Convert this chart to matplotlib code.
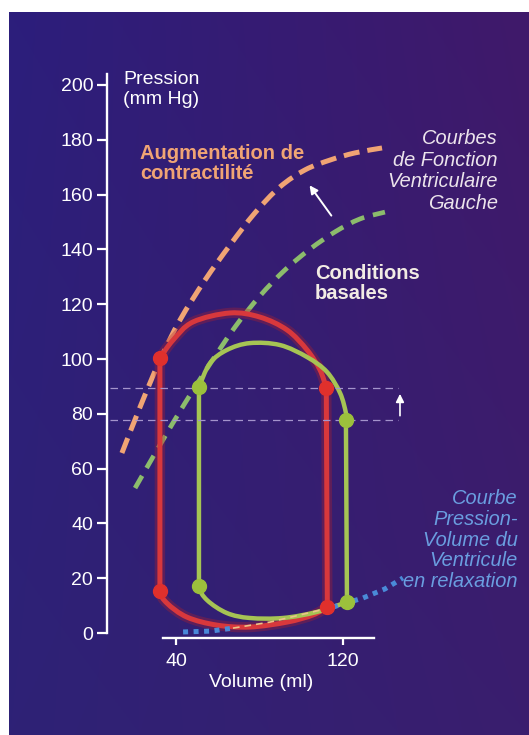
import numpy as np
import matplotlib
matplotlib.use("Agg")
import matplotlib.pyplot as plt
from matplotlib.colors import to_rgb
from matplotlib.path import Path
from matplotlib.patches import PathPatch

plt.rcParams['font.family'] = ['Liberation Sans', 'DejaVu Sans']

# Courbes de fonction ventriculaire gauche (volume ml, pression mm Hg)
contract_vol = [14.1, 22.8, 32.3, 41.9, 53.9, 65.9, 77.8, 89.8, 101.8, 113.8, 125.7, 138.7]
contract_p = [65.7, 82.5, 99.6, 114.2, 128.8, 141.6, 153.3, 162.8, 169.0, 172.6, 175.2, 177.0]
basal_vol = [20.4, 32.3, 44.3, 56.3, 68.3, 80.2, 92.2, 104.2, 116.2, 128.1, 140.1]
basal_p = [52.9, 68.6, 83.9, 98.2, 111.7, 123.0, 132.5, 140.1, 146.4, 151.1, 153.6]

# Boucle pression-volume, contractilite augmentee : ejection (haut) et remplissage (bas)
red_top_vol = [32.3, 38.6, 48.1, 65.9, 80.2, 93.2, 102.8, 109.0, 112.0]
red_top_p = [100.4, 106.9, 113.5, 116.8, 115.3, 110.6, 103.3, 96.0, 89.4]
red_bot_vol = [112.5, 105.6, 93.2, 75.4, 59.6, 45.3, 35.7, 32.3]
red_bot_p = [9.5, 6.6, 4.0, 2.2, 2.9, 5.8, 10.9, 15.3]
red_dots_vol = [32.3, 32.3, 112.0, 112.5]
red_dots_p = [100.4, 15.3, 89.4, 9.5]

# Boucle pression-volume, conditions basales
green_top_vol = [51.0, 56.3, 64.4, 75.4, 89.8, 102.8, 112.3, 118.6, 121.4, 121.4]
green_top_p = [89.8, 98.5, 103.3, 105.8, 105.1, 100.7, 95.3, 87.6, 80.3, 77.6]
green_bot_vol = [121.9, 107.5, 91.3, 75.4, 64.4, 54.9, 51.0]
green_bot_p = [11.3, 7.7, 5.5, 5.5, 7.3, 12.0, 17.0]
green_dots_vol = [51.0, 51.0, 121.4, 121.9]
green_dots_p = [89.8, 17.0, 77.6, 11.3]

# Courbe pression-volume du ventricule en relaxation
relax_vol = [43.4, 56.3, 67.3, 85.0, 99.4, 115.2, 129.6, 140.1, 148.7]
relax_p = [0.4, 0.7, 1.8, 4.0, 6.6, 9.5, 12.8, 16.1, 20.1]

y_ticks = [0, 20, 40, 60, 80, 100, 120, 140, 160, 180, 200]
x_ticks = [40, 120]


def spline(xs, ys, head=None, tail=None):
    """Bezier segments (Catmull-Rom) passing through the given points."""
    pts = np.column_stack([xs, ys]).astype(float)
    pre = pts[0] if head is None else np.asarray(head, float)
    post = pts[-1] if tail is None else np.asarray(tail, float)
    ext = np.vstack([pre, pts, post])
    verts, codes = [pts[0]], [Path.MOVETO]
    for i in range(len(pts) - 1):
        p0, p1, p2, p3 = ext[i], ext[i + 1], ext[i + 2], ext[i + 3]
        verts += [p1 + (p2 - p0) / 6, p2 - (p3 - p1) / 6, p2]
        codes += [Path.CURVE4] * 3
    return verts, codes


def loop_path(top_vol, top_p, bot_vol, bot_p):
    v1, c1 = spline(top_vol, top_p)
    v2, c2 = spline(bot_vol, bot_p, tail=(bot_vol[-1], bot_p[-1] + 8))
    verts = v1 + v2 + [(top_vol[0], top_p[0])]
    codes = c1 + [Path.LINETO] + c2[1:] + [Path.LINETO]
    return Path(verts, codes)


def curve_path(xs, ys):
    v, c = spline(xs, ys)
    return Path(v, c)


fig = plt.figure(figsize=(5.29, 7.35), dpi=100, facecolor='white')

# fond violet en degrade
bg = fig.add_axes([9 / 529, 0, 520 / 529, 723 / 735])
tl, tr = np.array(to_rgb('#2c1e7c')), np.array(to_rgb('#40196a'))
bl, br = np.array(to_rgb('#2e2276')), np.array(to_rgb('#3a1e6e'))
u = np.linspace(0, 1, 200)[None, :, None]
v = np.linspace(0, 1, 200)[:, None, None]
grad = (1 - v) * ((1 - u) * tl + u * tr) + v * ((1 - u) * bl + u * br)
bg.imshow(grad, aspect='auto', extent=[0, 1, 0, 1], origin='upper')
bg.axis('off')

ax = fig.add_axes([0, 0, 1, 1])
ax.patch.set_alpha(0)
ax.set_xlim(-44.3, 209.1)
ax.set_ylim(-37.2, 231.0)

for s in ['top', 'right']:
    ax.spines[s].set_visible(False)
ax.spines['left'].set_position(('data', 7.0))
ax.spines['left'].set_bounds(0, 204)
ax.spines['bottom'].set_position(('data', -1.8))
ax.spines['bottom'].set_bounds(33.8, 135)
for s in ['left', 'bottom']:
    ax.spines[s].set_color('white')
    ax.spines[s].set_linewidth(1.7)

ax.set_yticks(y_ticks)
ax.set_xticks(x_ticks)
ax.tick_params(axis='y', direction='out', length=7, width=1.6, colors='white',
               labelsize=14, pad=3)
ax.tick_params(axis='x', direction='out', length=5, width=1.6, colors='white',
               labelsize=14, pad=6)

# lignes de reference horizontales
for p in [red_dots_p[2], green_dots_p[2]]:
    ax.plot([8.4, 146.3], [p, p], color='#a494cc', lw=0.9, dashes=(6, 4))
ax.annotate('', xy=(147.3, 88.3), xytext=(147.3, 78.3),
            arrowprops=dict(arrowstyle='-|>', color='white', lw=1.2, mutation_scale=12))

# courbes de fonction ventriculaire
ax.add_patch(PathPatch(curve_path(contract_vol, contract_p), fill=False, ec='#f0a474',
                       lw=3.6, ls=(0, (3.2, 1.6)), capstyle='butt'))
ax.add_patch(PathPatch(curve_path(basal_vol, basal_p), fill=False, ec='#8cbc6c',
                       lw=3.4, ls=(0, (3.0, 1.9)), capstyle='butt'))
ax.annotate('', xy=(103.2, 164.2), xytext=(115.2, 151.5),
            arrowprops=dict(arrowstyle='-|>', color='white', lw=1.4, mutation_scale=12))

# courbe de relaxation
ax.plot(relax_vol[:3], relax_p[:3], color='#4a8ad8', lw=3.6, dashes=(1, 1.1),
        dash_capstyle='butt')
ax.plot(relax_vol[5:], relax_p[5:], color='#4a8ad8', lw=3.6, dashes=(1, 1.1),
        dash_capstyle='butt')

# boucles pression-volume
red_path = loop_path(red_top_vol, red_top_p, red_bot_vol, red_bot_p)
green_path = loop_path(green_top_vol, green_top_p, green_bot_vol, green_bot_p)
ax.add_patch(PathPatch(red_path, fill=False, ec='#b0202c', lw=7.5, alpha=0.35,
                       joinstyle='round'))
ax.add_patch(PathPatch(red_path, fill=False, ec='#d8383c', lw=3.6, joinstyle='round'))
ax.add_patch(PathPatch(green_path, fill=False, ec='#a6c454', lw=3.2, joinstyle='round'))
ax.plot(relax_vol[2:6], relax_p[2:6], color='#ecc488', lw=1.2, dashes=(4, 3))
ax.plot(red_dots_vol, red_dots_p, 'o', color='#e0302c', ms=10, ls='none')
ax.plot(green_dots_vol, green_dots_p, 'o', color='#9cc03c', ms=10, ls='none')

# textes
ax.text(14.6, 205.1, 'Pression\n(mm Hg)', color='white', fontsize=14, ha='left', va='top')
ax.text(80.7, -18.2, 'Volume (ml)', color='white', fontsize=14, ha='center', va='center')
ax.text(22.8, 178.6, 'Augmentation de\ncontractilité', color='#f0a474', fontsize=14.5,
        fontweight='bold', ha='left', va='top', linespacing=1.1)
ax.text(106.6, 134.8, 'Conditions\nbasales', color='#f2ece4', fontsize=14.5,
        fontweight='bold', ha='left', va='top', linespacing=1.1)
ax.text(194.2, 184.0, 'Courbes\nde Fonction\nVentriculaire\nGauche', color='#ece4ec',
        fontsize=14.4, fontstyle='italic', ha='right', va='top', linespacing=1.18)
ax.text(203.8, 52.6, 'Courbe\nPression-\nVolume du\nVentricule\nen relaxation',
        color='#6a9ee0', fontsize=14.4, fontstyle='italic', ha='right', va='top',
        linespacing=1.12)

fig.savefig('out.png', dpi=100, facecolor='white')
